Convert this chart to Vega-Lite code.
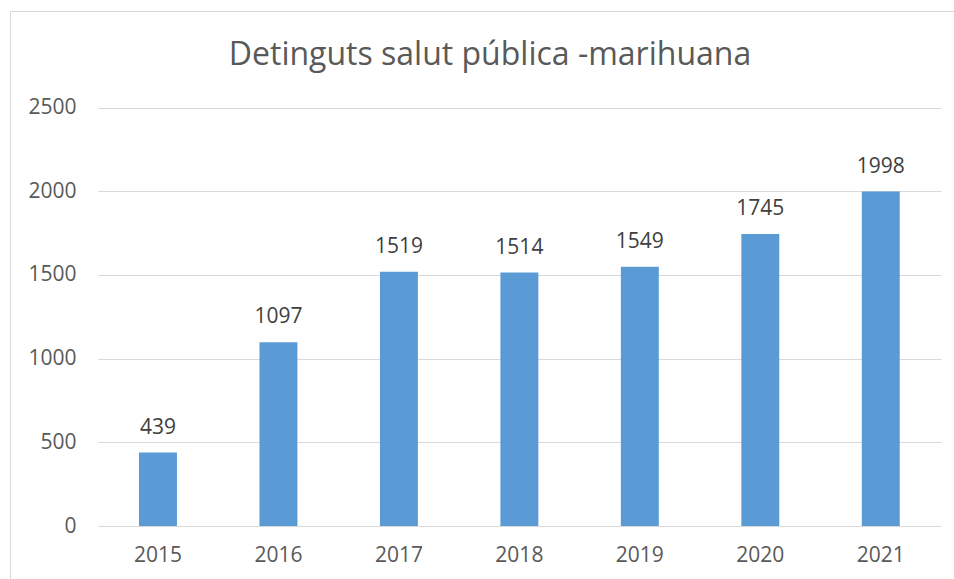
{
  "$schema": "https://vega.github.io/schema/vega-lite/v6.json",
  "autosize": {"type": "none"},
  "padding": {"left": 10, "top": 11, "right": 0, "bottom": 0},
  "width": 960,
  "height": 590,
  "background": "white",
  "title": {
    "text": "Detinguts salut pública -marihuana",
    "font": "Open Sans",
    "fontSize": 32,
    "fontWeight": "normal",
    "color": "#595959",
    "anchor": "middle",
    "frame": "group",
    "offset": -61
  },
  "config": {
    "view": {"stroke": "#D9D9D9", "strokeWidth": 1},
    "font": "Open Sans"
  },
  "data": {
    "values": [
      {"year": "2015", "value": 439},
      {"year": "2016", "value": 1097},
      {"year": "2017", "value": 1519},
      {"year": "2018", "value": 1514},
      {"year": "2019", "value": 1549},
      {"year": "2020", "value": 1745},
      {"year": "2021", "value": 1998}
    ]
  },
  "encoding": {
    "x": {
      "field": "year",
      "type": "nominal",
      "scale": {"range": [87.75, 931], "paddingInner": 0.685, "paddingOuter": 0.3425},
      "axis": {
        "title": null,
        "labelAngle": 0,
        "labelFont": "Open Sans",
        "labelFontSize": 21,
        "labelColor": "#595959",
        "domain": false,
        "ticks": false,
        "tickSize": 0,
        "grid": false,
        "labelPadding": 18,
        "offset": -75
      }
    },
    "y": {
      "field": "value",
      "type": "quantitative",
      "scale": {"domain": [0, 2500], "range": [515, 96.5], "nice": false},
      "axis": {
        "title": null,
        "format": "d",
        "values": [0, 500, 1000, 1500, 2000, 2500],
        "labelFont": "Open Sans",
        "labelFontSize": 21,
        "labelColor": "#595959",
        "domain": false,
        "ticks": false,
        "tickSize": 0,
        "grid": true,
        "gridColor": "#D9D9D9",
        "gridWidth": 1,
        "labelPadding": 4,
        "offset": -70
      }
    }
  },
  "layer": [
    {"mark": {"type": "bar", "color": "#5B9BD5"}},
    {
      "mark": {"type": "text", "baseline": "alphabetic", "dy": -19, "font": "Open Sans", "fontSize": 21, "color": "#404040"},
      "encoding": {"text": {"field": "value", "type": "quantitative", "format": "d"}}
    }
  ]
}
